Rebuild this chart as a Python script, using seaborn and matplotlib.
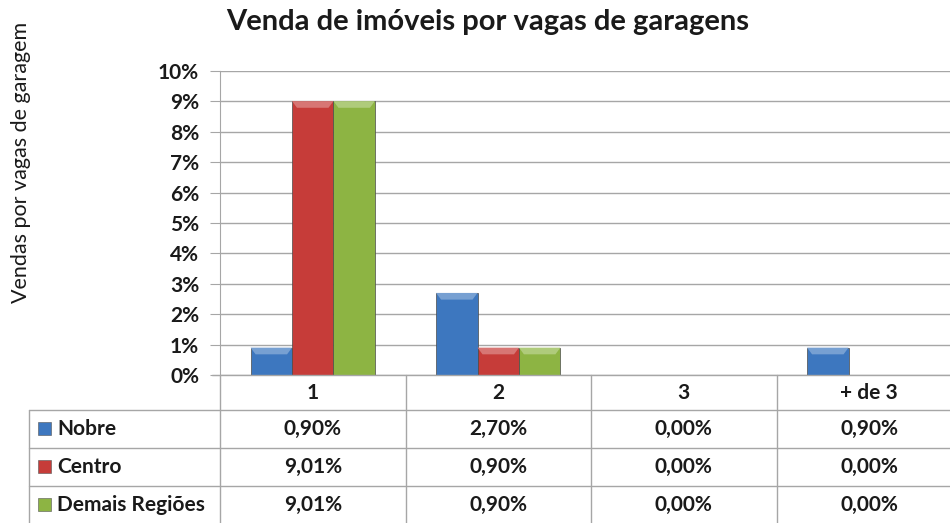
import matplotlib
matplotlib.use('Agg')
import matplotlib.pyplot as plt
import seaborn as sns
import pandas as pd
from matplotlib.lines import Line2D
from matplotlib.patches import Rectangle, Polygon
from matplotlib.colors import to_rgb

# dados (percentual de vendas)
categorias = ['1', '2', '3', '+ de 3']
series = ['Nobre', 'Centro', 'Demais Regiões']
nobre = [0.90, 2.70, 0.00, 0.90]
centro = [9.01, 0.90, 0.00, 0.00]
demais = [9.01, 0.90, 0.00, 0.00]
cores = ['#3D77BF', '#C63C39', '#8DB443']
yticks = [0, 1, 2, 3, 4, 5, 6, 7, 8, 9, 10]

df = pd.DataFrame({
    'vagas': categorias * 3,
    'regiao': [s for s in series for _ in categorias],
    'pct': nobre + centro + demais,
})

sns.set_style('white')
plt.rcParams['font.family'] = ['Lato', 'DejaVu Sans']

W, H = 950, 523
fig = plt.figure(figsize=(9.5, 5.23), dpi=100)
x0, x1 = 220, 220 + 4 * 185.5
y_top, y_bot = 71, 375
ax = fig.add_axes([x0 / W, 1 - y_bot / H, (x1 - x0) / W, (y_bot - y_top) / H])

sns.barplot(data=df, x='vagas', y='pct', hue='regiao', palette=cores, width=0.67,
            saturation=1, edgecolor='#4a4a4a', linewidth=0.5, ax=ax, legend=False)

# efeito de chanfro no topo das barras (estilo Excel)
def clarear(c, f):
    r, g, b = to_rgb(c)
    return (r + (1 - r) * f, g + (1 - g) * f, b + (1 - b) * f)

for p in ax.patches:
    h = p.get_height()
    if h <= 0:
        continue
    bx, bw = p.get_x(), p.get_width()
    ins, d = bw * 0.12, 0.22
    ax.add_patch(Polygon([(bx, h), (bx + bw, h), (bx + bw - ins, h - d), (bx + ins, h - d)],
                         closed=True, facecolor=clarear(p.get_facecolor(), 0.3),
                         edgecolor='none', zorder=p.get_zorder() + 0.1))

ax.set_xlim(-0.5, 3.5)
ax.set_ylim(0, 10)
ax.set_yticks(yticks)
ax.set_yticklabels([f'{t}%' for t in yticks], fontsize=15, fontweight='bold', color='#1a1a1a')
ax.set_xticks([])
ax.set_xlabel('')
ax.set_ylabel('')
ax.yaxis.grid(True, color='#a6a6a6', linewidth=1)
ax.set_axisbelow(True)
for s in ['top', 'right', 'bottom']:
    ax.spines[s].set_visible(False)
ax.spines['left'].set_color('#a6a6a6')
ax.tick_params(axis='y', length=7, color='#a6a6a6', left=True, pad=8)

# titulo e rotulo do eixo
fig.text(488 / W, 1 - 22 / H, 'Venda de imóveis por vagas de garagens', ha='center', va='center',
         fontsize=21, fontweight='bold', color='#1a1a1a')
fig.text(21 / W, 1 - 162 / H, 'Vendas por vagas de garagem', ha='center', va='center',
         rotation=90, fontsize=15.5, color='#1a1a1a')

# tabela de dados
lc = '#a6a6a6'
cols = [x0 + i * 185.5 for i in range(5)]
rows = [375, 410, 448, 486, 524]
def fx(px):
    return px / W
def fy(py):
    return 1 - py / H
for c in cols:
    fig.add_artist(Line2D([fx(c), fx(c)], [fy(375), fy(524)], color=lc, lw=1))
fig.add_artist(Line2D([fx(29), fx(29)], [fy(410), fy(524)], color=lc, lw=1))
for r in rows[1:]:
    fig.add_artist(Line2D([fx(29), fx(x1)], [fy(r), fy(r)], color=lc, lw=1))
fig.add_artist(Line2D([fx(212), fx(x1)], [fy(375), fy(375)], color=lc, lw=1))

for i, cat in enumerate(categorias):
    fig.text(fx(cols[i] + 92.75), fy(393), cat, ha='center', va='center',
             fontsize=15, fontweight='bold', color='#1a1a1a')

valores = [nobre, centro, demais]
for j, nome in enumerate(series):
    yc = (rows[j + 1] + rows[j + 2]) / 2
    fig.add_artist(Rectangle((fx(38), fy(yc + 6)), 13 / W, 13 / H, facecolor=cores[j],
                             edgecolor='#555555', lw=0.4))
    fig.text(fx(57), fy(yc), nome, ha='left', va='center', fontsize=15,
             fontweight='bold', color='#1a1a1a')
    for i, v in enumerate(valores[j]):
        fig.text(fx(cols[i] + 92.75), fy(yc), f'{v:.2f}'.replace('.', ',') + '%',
                 ha='center', va='center', fontsize=15, fontweight='bold', color='#1a1a1a')

fig.savefig('out.png', dpi=100, facecolor='white')
